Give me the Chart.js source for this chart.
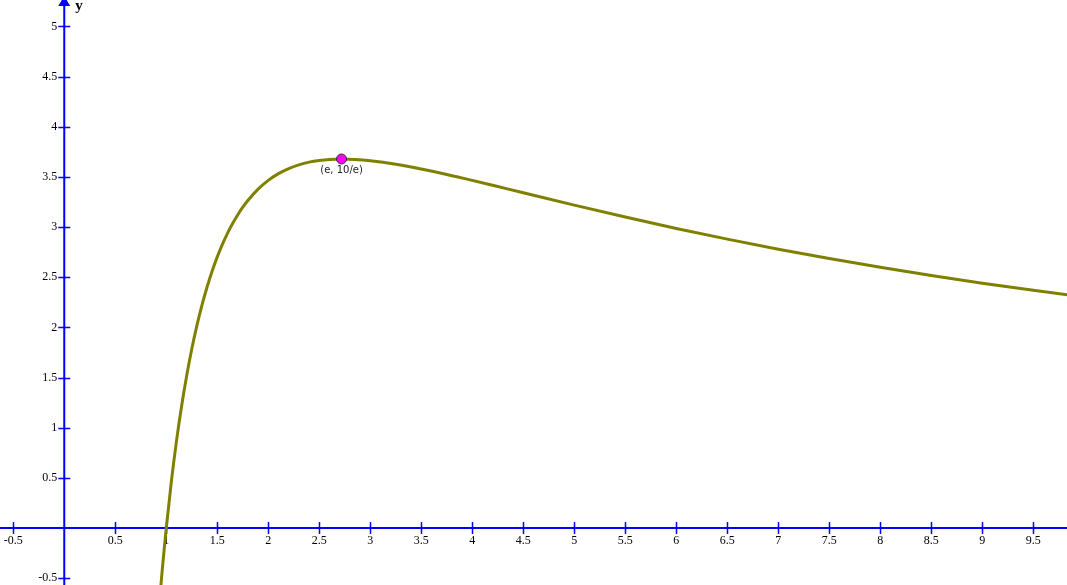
<!DOCTYPE html>
<html>
<head>
<meta charset="utf-8">
<script src="https://cdn.jsdelivr.net/npm/chart.js@4.4.1/dist/chart.umd.min.js"></script>
<style>
  html, body { margin: 0; padding: 0; background: #fff; }
  #wrap { width: 1067px; height: 585px; }
</style>
</head>
<body>
<div id="wrap"><canvas id="plot"></canvas></div>
<script>
// curve values
const curveX = [0.92, 0.94, 0.96, 0.98, 1.0, 1.05, 1.1, 1.15, 1.2, 1.25, 1.3, 1.35, 1.4, 1.45, 1.5, 1.55, 1.6, 1.65, 1.7, 1.75, 1.8, 1.9, 2.0, 2.1, 2.2, 2.3, 2.4, 2.5, 2.6, 2.718, 2.85, 3.0, 3.25, 3.5, 3.75, 4.0, 4.25, 4.5, 5.0, 5.5, 6.0, 6.5, 7.0, 7.5, 8.0, 8.5, 9.0, 9.5, 10.0];
const curveY = [-0.906, -0.658, -0.425, -0.206, 0, 0.465, 0.866, 1.215, 1.519, 1.785, 2.018, 2.223, 2.403, 2.563, 2.703, 2.828, 2.938, 3.035, 3.121, 3.198, 3.265, 3.378, 3.466, 3.533, 3.584, 3.621, 3.648, 3.665, 3.675, 3.679, 3.675, 3.662, 3.627, 3.579, 3.525, 3.466, 3.404, 3.342, 3.219, 3.100, 2.986, 2.880, 2.780, 2.687, 2.599, 2.518, 2.441, 2.370, 2.303];

const peakX = [2.718];
const peakY = [3.679];
const peakLabel = "(e, 10/e)";

const xTicks = [-0.5, 0.5, 1, 1.5, 2, 2.5, 3, 3.5, 4, 4.5, 5, 5.5, 6, 6.5, 7, 7.5, 8, 8.5, 9, 9.5];
const yTicks = [-0.5, 0.5, 1, 1.5, 2, 2.5, 3, 3.5, 4, 4.5, 5];

const axisColor = "#0000ff";

const axesPlugin = {
  id: "axes",
  beforeDatasetsDraw(chart) {
    const { ctx, chartArea, scales } = chart;
    const sx = scales.x, sy = scales.y;
    const x0 = sx.getPixelForValue(0);
    const y0 = sy.getPixelForValue(0);
    ctx.save();
    ctx.strokeStyle = axisColor;
    ctx.fillStyle = axisColor;
    ctx.lineWidth = 2;
    // axes
    ctx.beginPath();
    ctx.moveTo(chartArea.left, y0);
    ctx.lineTo(chartArea.right, y0);
    ctx.moveTo(x0, chartArea.bottom);
    ctx.lineTo(x0, chartArea.top + 4);
    ctx.stroke();
    // arrow head on y axis
    ctx.beginPath();
    ctx.moveTo(x0, chartArea.top - 4);
    ctx.lineTo(x0 - 6, chartArea.top + 6);
    ctx.lineTo(x0 + 6, chartArea.top + 6);
    ctx.closePath();
    ctx.fill();

    // ticks
    ctx.lineWidth = 1.5;
    ctx.beginPath();
    xTicks.forEach(v => {
      const px = Math.round(sx.getPixelForValue(v)) + 0.5;
      ctx.moveTo(px, y0 - 6);
      ctx.lineTo(px, y0 + 6);
    });
    yTicks.forEach(v => {
      const py = Math.round(sy.getPixelForValue(v)) + 0.5;
      ctx.moveTo(x0 - 6, py);
      ctx.lineTo(x0 + 6, py);
    });
    ctx.stroke();

    // tick labels
    ctx.fillStyle = "#000";
    ctx.font = "12px 'Liberation Serif', serif";
    ctx.textAlign = "center";
    ctx.textBaseline = "top";
    xTicks.forEach(v => {
      ctx.fillText(String(v), sx.getPixelForValue(v), y0 + 7);
    });
    ctx.textAlign = "right";
    ctx.textBaseline = "middle";
    yTicks.forEach(v => {
      ctx.fillText(String(v), x0 - 7, sy.getPixelForValue(v));
    });

    // axis name
    ctx.font = "bold 15px 'Liberation Serif', serif";
    ctx.textAlign = "left";
    ctx.textBaseline = "alphabetic";
    ctx.fillText("y", x0 + 11, chartArea.top + 10);
    ctx.restore();
  },
  afterDatasetsDraw(chart) {
    const { ctx, scales } = chart;
    ctx.save();
    ctx.fillStyle = "#222";
    ctx.font = "10px 'DejaVu Sans', sans-serif";
    ctx.textAlign = "center";
    ctx.textBaseline = "top";
    ctx.fillText(peakLabel, scales.x.getPixelForValue(peakX[0]), scales.y.getPixelForValue(peakY[0]) + 6);
    ctx.restore();
  }
};

new Chart(document.getElementById("plot"), {
  type: "scatter",
  data: {
    datasets: [
      {
        data: peakX.map((x, i) => ({ x, y: peakY[i] })),
        pointRadius: 5,
        pointBackgroundColor: "#ff00ff",
        pointBorderColor: "#333333",
        pointBorderWidth: 1,
        showLine: false,
        order: 0
      },
      {
        data: curveX.map((x, i) => ({ x, y: curveY[i] })),
        showLine: true,
        borderColor: "#808000",
        borderWidth: 3,
        pointRadius: 0,
        cubicInterpolationMode: "monotone",
        order: 1
      }
    ]
  },
  plugins: [axesPlugin],
  options: {
    responsive: true,
    maintainAspectRatio: false,
    animation: false,
    layout: { padding: 0, autoPadding: false },
    plugins: { legend: { display: false }, tooltip: { enabled: false } },
    scales: {
      x: { type: "linear", min: -0.630, max: 9.830, display: false },
      y: { type: "linear", min: -0.568, max: 5.264, display: false }
    }
  }
});
</script>
</body>
</html>
